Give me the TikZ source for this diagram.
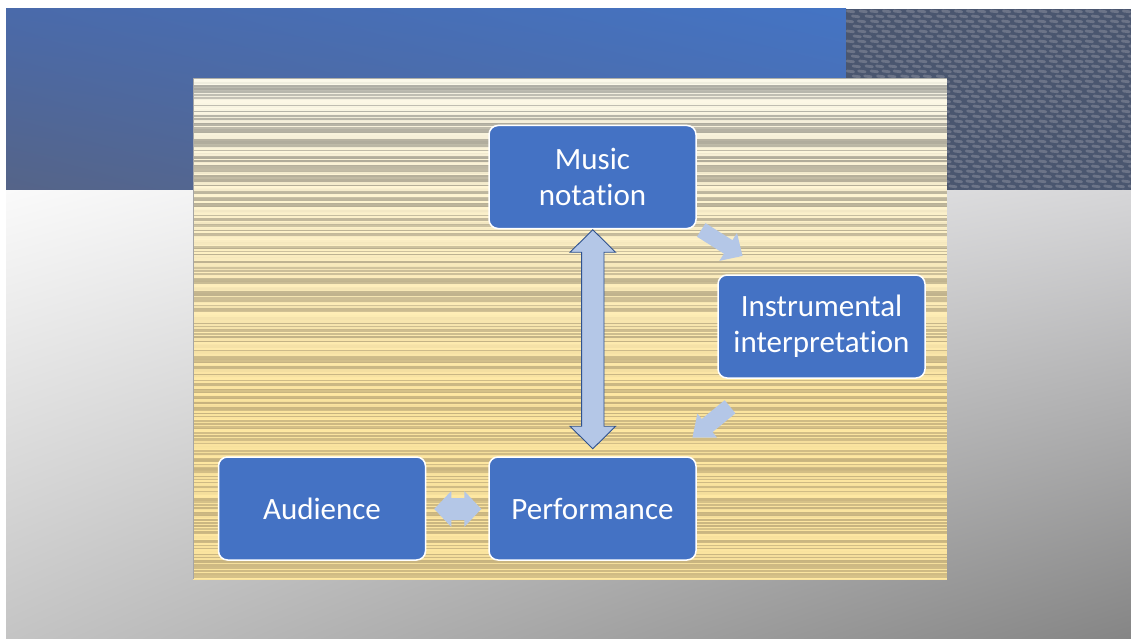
\documentclass[tikz,border=0pt]{standalone}
\usepackage{fontspec}
\setmainfont{Carlito}[Ligatures=NoCommon]
\usetikzlibrary{calc,shadings}
\definecolor{nodeblue}{HTML}{4472C4}
\definecolor{arrowfill}{HTML}{B4C7E7}
\definecolor{arrowline}{HTML}{2F528F}
\definecolor{bandUL}{HTML}{4A6AAA}
\definecolor{bandUR}{HTML}{4474C4}
\definecolor{bandLL}{HTML}{556488}
\definecolor{bandLR}{HTML}{4D6CAC}
\definecolor{grayUL}{HTML}{FAFAFA}
\definecolor{grayUR}{HTML}{D6D6D8}
\definecolor{grayLL}{HTML}{C4C4C4}
\definecolor{grayLR}{HTML}{858585}
\definecolor{texbase}{HTML}{4A566F}
\definecolor{texlight}{HTML}{6C7488}
\definecolor{lightTop}{HTML}{FFFCEE}
\definecolor{lightBot}{HTML}{FFE8A2}
\definecolor{darkTop}{HTML}{A8A8A2}
\definecolor{darkBot}{HTML}{C6B27E}
\newcommand{\mysingarrow}[5]{% A, B, w, h, k
  \coordinate (H) at ($(#2)!#5!(#1)$);
  \fill[smallarrow] ($(#1)!#3!90:(#2)$) -- ($(H)!#3!90:(#2)$) -- ($(H)!#4!90:(#2)$) -- (#2)
    -- ($(H)!#4!-90:(#2)$) -- ($(H)!#3!-90:(#2)$) -- ($(#1)!#3!-90:(#2)$) -- cycle;}
\newcommand{\mydblarrow}[6]{% style, A, B, w, h, k
  \coordinate (H1) at ($(#2)!#6!(#3)$);
  \coordinate (H2) at ($(#3)!#6!(#2)$);
  \path[#1] (#2) -- ($(H1)!#5!90:(#3)$) -- ($(H1)!#4!90:(#3)$) -- ($(H2)!#4!90:(#3)$)
    -- ($(H2)!#5!90:(#3)$) -- (#3) -- ($(H2)!#5!-90:(#3)$) -- ($(H2)!#4!-90:(#3)$)
    -- ($(H1)!#4!-90:(#3)$) -- ($(H1)!#5!-90:(#3)$) -- cycle;}
\begin{document}
\begin{tikzpicture}[x=1pt,y=-1pt,
  box/.style={draw=white, line width=1.5pt, fill=nodeblue, rounded corners=9pt,
    minimum width=207pt, minimum height=103pt, text=white,
    font=\fontsize{31}{36}\selectfont, align=center, inner sep=0pt},
  smallarrow/.style={fill=arrowfill},
  bigarrow/.style={fill=arrowfill, draw=arrowline, line width=0.9pt, line join=miter},
  flatarrow/.style={fill=arrowfill}]
\useasboundingbox (0,0) rectangle (1131,639);
\fill[white] (0,0) rectangle (1131,639);
% top band
\shade[upper left=bandUL, upper right=bandUR, lower left=bandLL, lower right=bandLR] (6,9) rectangle (846,190);
% textured region
\fill[texbase] (846,9) rectangle (1131,190);
\begin{scope}
\clip (846,9) rectangle (1131,190);
\pgfmathsetseed{11}
\foreach \row in {0,...,36} {
  \foreach \col in {0,...,24} {
    \pgfmathsetmacro\xx{846+\col*12+mod(\row,2)*6+rnd*2}
    \pgfmathsetmacro\yy{9+\row*5+2}
    \draw[texlight, line width=2.8pt, line cap=round] (\xx,\yy) -- (\xx+6.5,\yy+0.8);
  }
}
\end{scope}
% gray lower area
\shade[upper left=grayUL, upper right=grayUR, lower left=grayLL, lower right=grayLR] (6,190) rectangle (1131,639);
% striped panel
\begin{scope}
\clip (193,78) rectangle (947,579);
\pgfmathsetseed{7}
\foreach \i in {0,...,334} {
  \pgfmathsetmacro\yy{78+1.5*\i}
  \pgfmathtruncatemacro\t{max(0,100-\i/2.13)}
  \pgfmathsetmacro\q{rnd}
  \pgfmathtruncatemacro\r{\q<0.5 ? \q*40 : 40+\q*60}
  \colorlet{lt}{lightTop!\t!lightBot}
  \colorlet{dk}{darkTop!\t!darkBot}
  \fill[dk!\r!lt] (193,\yy) rectangle (947,\yy+1.55);
}
\end{scope}
\draw[black!35, line width=0.8pt] (193,78) -- (193,579);
% nodes
\node[box] (music) at (592.5,177) {Music\\notation};
\node[box] (instr) at (821.5,326.5) {Instrumental\\interpretation};
\node[box] (perf) at (592.5,508.5) {Performance};
\node[box] (aud) at (322,508.5) {Audience};
% connectors
\coordinate (v1) at ($(music.south)+(0.3,0.5)$);
\coordinate (v2) at ($(perf.north)+(0.3,-7.5)$);
\mydblarrow{bigarrow}{v1}{v2}{11.2pt}{22.8pt}{22.5pt}
\coordinate (h1) at ($(aud.east)+(8,0.5)$);
\coordinate (h2) at ($(perf.west)+(-7,0.5)$);
\mydblarrow{flatarrow}{h1}{h2}{11pt}{18pt}{17pt}
\coordinate (a1) at ($(music.south east)+(4.5,0.7)$);
\coordinate (b1) at ($(instr.north west)+(25.3,-18.3)$);
\mysingarrow{a1}{b1}{8pt}{16.5pt}{17pt}
\coordinate (a2) at ($(instr.south west)+(12.8,28)$);
\coordinate (b2) at ($(perf.north east)+(-4.3,-18.7)$);
\mysingarrow{a2}{b2}{8.5pt}{15.5pt}{19pt}
\end{tikzpicture}
\end{document}
